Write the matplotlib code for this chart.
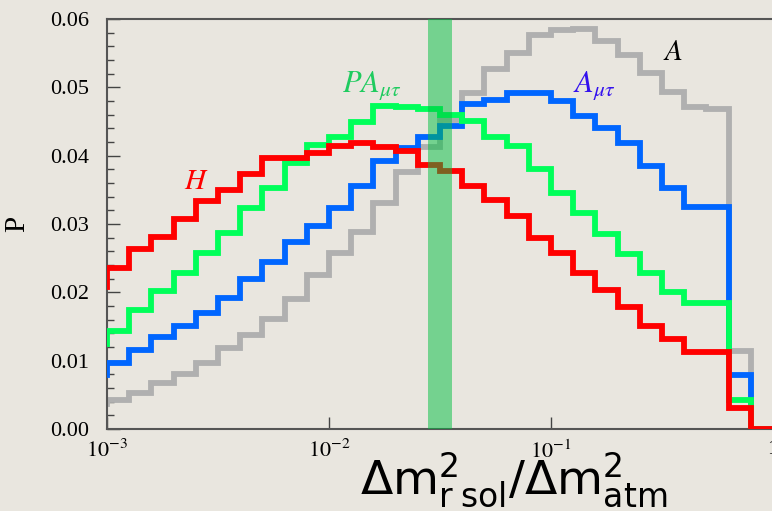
import numpy as np
import matplotlib
matplotlib.use("Agg")
import matplotlib.pyplot as plt
from matplotlib.ticker import FixedLocator, MultipleLocator, FuncFormatter

# log10 bin edges: one hidden bin left of 1e-3, then 10 bins per decade up to 1
log_edges = np.round(np.arange(-3.1, 0.0001, 0.1), 2)
edges = 10.0 ** log_edges

# probabilities per bin (first value is the hidden bin left of 1e-3)
p_H = [0.0208, 0.0235, 0.0263, 0.0281, 0.0307, 0.0333, 0.0350, 0.0373, 0.0397,
       0.0396, 0.0404, 0.0414, 0.0419, 0.0412, 0.0407, 0.0386, 0.0378, 0.0356,
       0.0335, 0.0311, 0.0280, 0.0258, 0.0229, 0.0204, 0.0178, 0.0150, 0.0132,
       0.0113, 0.0113, 0.0030, 0.0]
p_PA = [0.0125, 0.0144, 0.0174, 0.0202, 0.0229, 0.0258, 0.0287, 0.0324, 0.0352,
        0.0390, 0.0415, 0.0428, 0.0449, 0.0473, 0.0471, 0.0468, 0.0459, 0.0451,
        0.0427, 0.0414, 0.0381, 0.0346, 0.0316, 0.0285, 0.0256, 0.0229, 0.0200,
        0.0184, 0.0184, 0.0043, 0.0]
p_Amt = [0.0079, 0.0097, 0.0115, 0.0134, 0.0150, 0.0170, 0.0192, 0.0219, 0.0244,
         0.0273, 0.0297, 0.0323, 0.0355, 0.0392, 0.0411, 0.0428, 0.0444, 0.0476,
         0.0481, 0.0491, 0.0491, 0.0480, 0.0458, 0.0441, 0.0418, 0.0385, 0.0353,
         0.0325, 0.0325, 0.0079, 0.0]
p_A = [0.0036, 0.0043, 0.0052, 0.0068, 0.0081, 0.0096, 0.0119, 0.0138, 0.0161,
       0.0190, 0.0225, 0.0258, 0.0289, 0.0330, 0.0376, 0.0412, 0.0452, 0.0491,
       0.0527, 0.0550, 0.0577, 0.0584, 0.0585, 0.0568, 0.0548, 0.0521, 0.0493,
       0.0471, 0.0469, 0.0114, 0.0]

band = (0.028, 0.0357)
bg = '#E9E6DF'

plt.rcParams['mathtext.fontset'] = 'stix'
serif = 'Liberation Serif'

fig = plt.figure(figsize=(7.72, 5.11), dpi=100, facecolor=bg)
ax = fig.add_axes([0.1386, 0.1605, 0.8627, 0.8023])
ax.set_facecolor(bg)

lw = 4.2
ax.stairs(p_A, edges, baseline=None, color='#B0B0B0', lw=lw, zorder=2)
ax.stairs(p_Amt, edges, baseline=None, color='#0066FF', lw=lw, zorder=3)
ax.stairs(p_PA, edges, baseline=None, color='#00FF5A', lw=lw, zorder=4)
ax.stairs(p_H, edges, baseline=None, color='#FF0000', lw=lw, zorder=5)
ax.axvspan(band[0], band[1], color='#00C040', alpha=0.5, lw=0, zorder=6)

ax.set_xscale('log')
ax.set_xlim(1e-3, 1)
ax.set_ylim(0, 0.06)

ax.xaxis.set_major_locator(FixedLocator([1e-3, 1e-2, 1e-1, 1]))
ax.xaxis.set_minor_locator(FixedLocator([]))
ax.xaxis.set_major_formatter(FuncFormatter(
    lambda v, pos: '1' if v == 1 else r'$10^{%d}$' % round(np.log10(v))))
ax.yaxis.set_major_locator(MultipleLocator(0.01))
ax.yaxis.set_minor_locator(MultipleLocator(0.002))
ax.yaxis.set_major_formatter(FuncFormatter(lambda v, pos: '%.2f' % v))

ax.tick_params(which='both', direction='in', colors='#444444', labelcolor='black',
               labelsize=16, right=False, top=False)
ax.tick_params(which='major', length=9, width=1)
ax.tick_params(which='minor', length=5, width=1)
ax.tick_params(axis='x', pad=8)
ax.tick_params(axis='y', pad=13)
for lab in ax.get_yticklabels() + ax.get_xticklabels():
    lab.set_fontfamily(serif)
for s in ax.spines.values():
    s.set_color('#555555')
    s.set_linewidth(1.5)

ax.set_ylabel('P', fontsize=21, family=serif, labelpad=14)

ax.text(0.00252, 0.0351, r'$H$', color='#FF0000', fontsize=21, ha='center', zorder=7)
ax.text(0.0156, 0.0493, r'$PA_{\mu\tau}$', color='#1FCB5F', fontsize=22, ha='center', zorder=7)
ax.text(0.157, 0.0493, r'$A_{\mu\tau}$', color='#3311EE', fontsize=22, ha='center', zorder=7)
ax.text(0.355, 0.0540, r'$A$', color='black', fontsize=21, ha='center', zorder=7)

fig.text(0.666, 0.002, r'$\mathregular{Δm^2_{r\ sol}/Δm^2_{atm}}$',
         family='DejaVu Sans', fontsize=34, ha='center', va='bottom')

fig.savefig('out.png', dpi=100, facecolor=bg)
